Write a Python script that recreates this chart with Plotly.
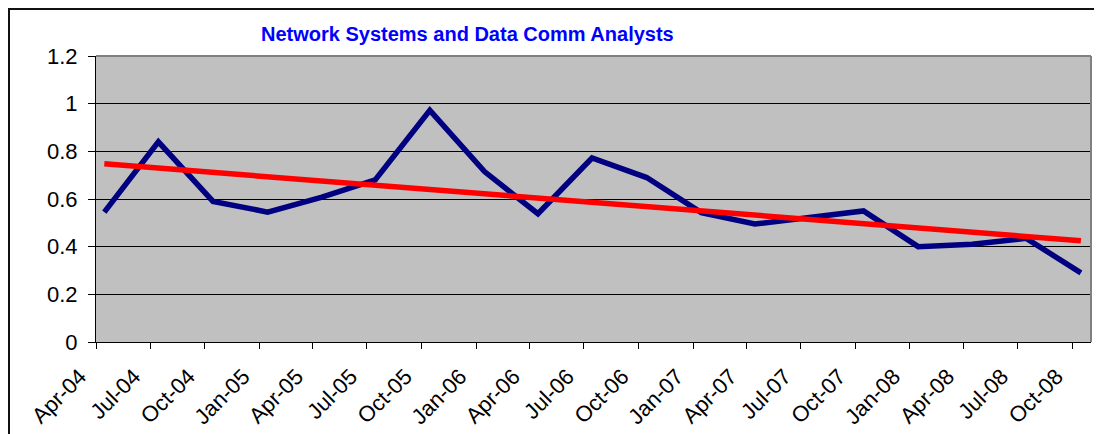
import numpy as np
import pandas as pd
import plotly.graph_objects as go

# ---- data ----
dates = ["2004-04-15", "2004-07-15", "2004-10-15", "2005-01-15", "2005-04-15",
         "2005-07-15", "2005-10-15", "2006-01-15", "2006-04-15", "2006-07-15",
         "2006-10-15", "2007-01-15", "2007-04-15", "2007-07-15", "2007-10-15",
         "2008-01-15", "2008-04-15", "2008-07-15", "2008-10-15"]
values = [0.545, 0.84, 0.59, 0.545, 0.607, 0.68, 0.972, 0.715, 0.538, 0.772,
          0.69, 0.543, 0.495, 0.52, 0.55, 0.40, 0.41, 0.435, 0.29]
title_text = "Network Systems and Data Comm Analysts"

# linear trendline (Excel-style) fitted to the series
d = pd.to_datetime(dates)
xd = (d - d[0]).days.values.astype(float)
slope, intercept = np.polyfit(xd, np.array(values), 1)
trend = slope * xd + intercept

FONT = "Liberation Sans, Arial, sans-serif"

# page body has an 8px margin, so the figure is sized to fit the window
W, H = 1094, 426
L, T, R, B = 88, 48, 11, 92
PW, PH = W - L - R, H - T - B

fig = go.Figure()
fig.add_trace(go.Scatter(x=d, y=values, mode="lines",
                         line=dict(color="#000080", width=5.5),
                         hoverinfo="skip", showlegend=False))
fig.add_trace(go.Scatter(x=d, y=trend, mode="lines",
                         line=dict(color="#FF0000", width=5.5),
                         hoverinfo="skip", showlegend=False))

fig.update_layout(
    width=W, height=H,
    margin=dict(l=L, r=R, t=T, b=B, autoexpand=False),
    paper_bgcolor="white",
    plot_bgcolor="#C0C0C0",
    font=dict(family=FONT, color="black"),
    xaxis=dict(
        type="date", automargin=False,
        range=["2004-04-01", "2008-11-01"],
        tick0="2004-04-01", dtick="M3", tickformat="%b-%y",
        tickangle=-45, tickfont=dict(size=22, family=FONT, color="black"),
        ticks="outside", ticklen=6, tickcolor="black", tickwidth=1,
        ticklabelstandoff=6, ticklabelshift=-16,
        showgrid=False, showline=True, linecolor="black", linewidth=1,
        zeroline=False, fixedrange=True,
    ),
    yaxis=dict(
        automargin=False,
        range=[0, 1.2], dtick=0.2, tick0=0,
        tickfont=dict(size=22, family=FONT, color="black"),
        ticks="outside", ticklen=7, tickcolor="black", tickwidth=1,
        ticklabelstandoff=6,
        showgrid=True, gridcolor="black", gridwidth=1,
        showline=True, linecolor="black", linewidth=1,
        zeroline=False, fixedrange=True,
    ),
    shapes=[
        # plot-area border (top and right, gray)
        dict(type="line", xref="paper", yref="paper", x0=0, x1=1, y0=1, y1=1,
             line=dict(color="#808080", width=2)),
        dict(type="line", xref="paper", yref="paper", x0=1, x1=1, y0=0, y1=1,
             line=dict(color="#808080", width=2)),
        # outer chart frame
        dict(type="rect", xref="paper", yref="paper",
             x0=(1 - L) / PW, x1=1.05, y0=-0.5, y1=(PH + T - 1) / PH,
             line=dict(color="#111111", width=2), layer="below"),
    ],
    annotations=[
        dict(text="<b>" + title_text + "</b>", xref="paper", yref="paper",
             x=(459.5 - L) / PW, y=(PH + T - 26.5) / PH,
             xanchor="center", yanchor="middle", showarrow=False,
             font=dict(size=20, family=FONT, color="#0000FF")),
    ],
)

fig.write_html("out.html")
